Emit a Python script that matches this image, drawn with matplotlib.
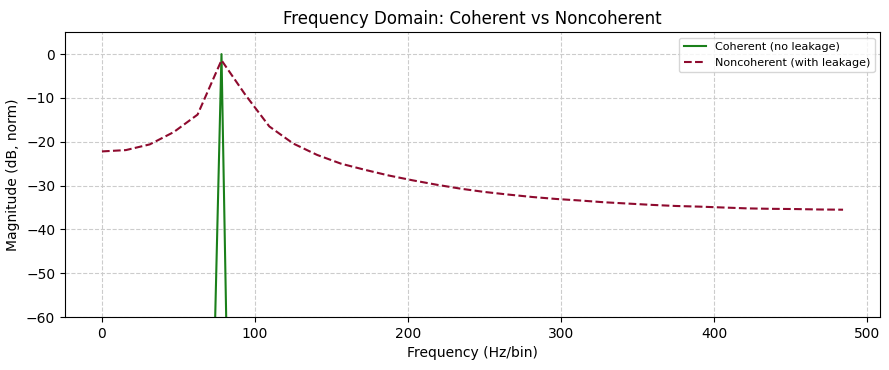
import numpy as np
import matplotlib
matplotlib.use('Agg')
import matplotlib.pyplot as plt

# 32 bins, fs = 1000 Hz, N = 64 -> 15.625 Hz per bin
freqs = [0.0, 15.625, 31.25, 46.875, 62.5, 78.125, 93.75, 109.375,
         125.0, 140.625, 156.25, 171.875, 187.5, 203.125, 218.75, 234.375,
         250.0, 265.625, 281.25, 296.875, 312.5, 328.125, 343.75, 359.375,
         375.0, 390.625, 406.25, 421.875, 437.5, 453.125, 468.75, 484.375]

# coherent tone: single bin, everything else sits at the numeric noise floor
coherent_db = [-310, -305, -298, -312, -228, 0.0, -305, -300,
               -315, -308, -302, -311, -299, -306, -313, -304,
               -309, -301, -307, -314, -303, -298, -310, -306,
               -300, -312, -305, -309, -302, -307, -311, -304]

noncoherent_db = [-22.2, -21.9, -20.6, -17.8, -13.8, -1.4, -9.3, -16.5,
                  -20.4, -23.0, -25.0, -26.4, -27.7, -28.8, -29.8, -30.7,
                  -31.45, -32.05, -32.6, -33.05, -33.4, -33.8, -34.1, -34.4,
                  -34.65, -34.8, -35.0, -35.2, -35.3, -35.35, -35.45, -35.5]

fig, ax = plt.subplots(figsize=(8.89, 3.7), dpi=100)
fig.subplots_adjust(left=0.073, right=0.99, top=0.913, bottom=0.143)

ax.plot(freqs, coherent_db, color='#1a801a', lw=1.5, label='Coherent (no leakage)')
ax.plot(freqs, noncoherent_db, color='#8e0a2e', lw=1.5, ls='--', label='Noncoherent (with leakage)')

ax.set_ylim(-60, 5)
ax.set_title('Frequency Domain: Coherent vs Noncoherent', fontsize=12)
ax.set_xlabel('Frequency (Hz/bin)', fontsize=10)
ax.set_ylabel('Magnitude (dB, norm)', fontsize=10)
ax.grid(True, ls='--', color='#cccccc', lw=0.8)
ax.legend(loc='upper right', fontsize=8)

plt.savefig('out.png', dpi=100)
